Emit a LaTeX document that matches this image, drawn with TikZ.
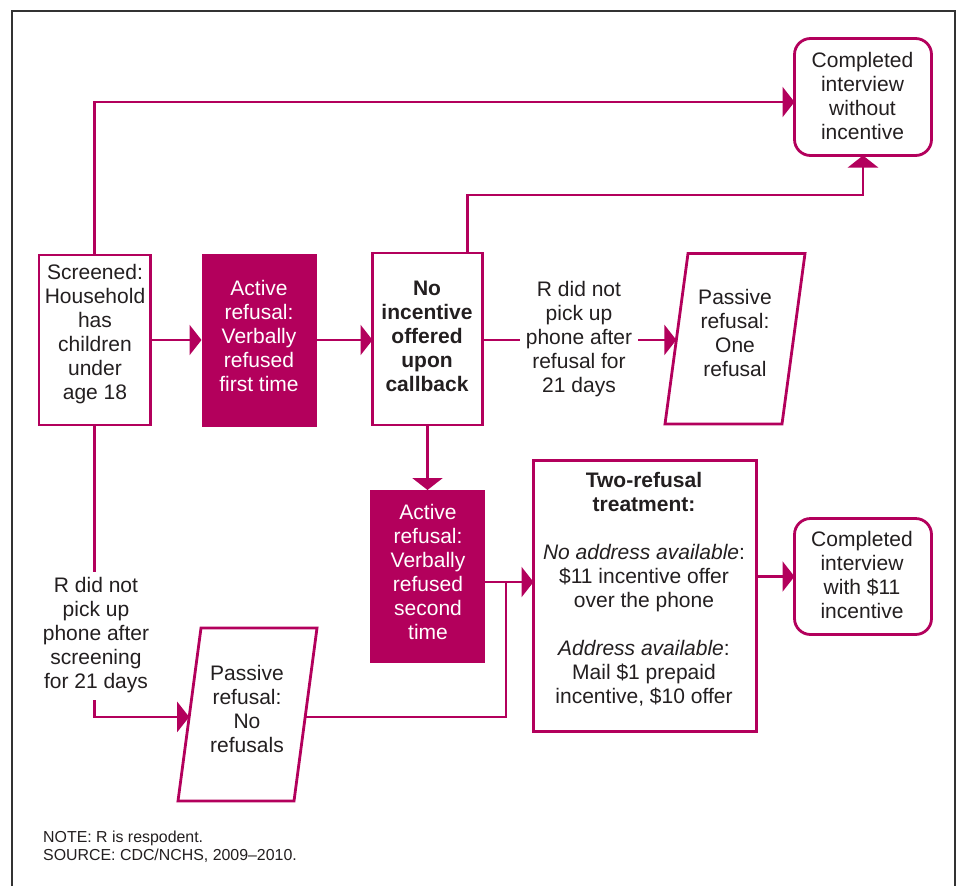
\documentclass[tikz,border=0pt]{standalone}
\usepackage{fontspec}
\setmainfont{Liberation Sans}
\usetikzlibrary{arrows.meta,calc}
\definecolor{mag}{RGB}{179,0,92}
\definecolor{ink}{RGB}{35,31,32}
\begin{document}
\begin{tikzpicture}[x=1pt,y=-1pt,
  box/.style={draw=mag, line width=2.8pt, fill=white, inner sep=0pt, outer sep=0pt},
  fbox/.style={fill=mag, inner sep=0pt, outer sep=0pt},
  rbox/.style={box, rounded corners=16pt},
  txt/.style={font=\fontsize{21}{24}\selectfont, text=ink, align=center, inner sep=0pt,
    execute at begin node=\strut, execute at end node=\strut},
  btxt/.style={txt, font=\fontsize{21}{24}\selectfont\bfseries},
  wtxt/.style={txt, text=white},
  ovl/.style={txt, fill=white, inner xsep=6pt, inner ysep=5pt},
  ln/.style={draw=mag, line width=2.8pt},
  arr/.style={ln, -{Triangle[length=12pt,width=30pt]}},
  frame/.style={draw=black!80, line width=1.6pt},
  note/.style={font=\fontsize{15.9}{18.7}\selectfont, text=ink, inner sep=0pt, anchor=base west}
]
\useasboundingbox (0,0) rectangle (957,886);
\fill[white] (0,0) rectangle (957,886);
\draw[frame] (12,886) -- (12,11) -- (955,11) -- (955,886);

% boxes
\node[box, minimum width=111.5, minimum height=170] (scr) at (94.75,340) {};
\node[fbox, minimum width=115, minimum height=173] (act1) at (259,340) {};
\node[box, minimum width=110, minimum height=172] (noinc) at (427.5,339) {};
\node[fbox, minimum width=115, minimum height=173] (act2) at (427.5,576.5) {};
\node[box, minimum width=223, minimum height=271] (two) at (645,596) {};
\node[rbox, minimum width=137, minimum height=117] (cw) at (863,97) {};
\node[rbox, minimum width=137, minimum height=116] (c11) at (863,576.5) {};

% parallelograms
\coordinate (p1tl) at (688,253.5);
\coordinate (p1tr) at (805,253.5);
\coordinate (p1br) at (782,424);
\coordinate (p1bl) at (665,424);
\draw[ln, fill=white] (p1tl) -- (p1tr) -- (p1br) -- (p1bl) -- cycle;
\coordinate (p1w) at ($(p1tl)!0.507!(p1bl)$);

\coordinate (p2tl) at (201,628);
\coordinate (p2tr) at (317,628);
\coordinate (p2br) at (294,801);
\coordinate (p2bl) at (178,801);
\draw[ln, fill=white] (p2tl) -- (p2tr) -- (p2br) -- (p2bl) -- cycle;
\coordinate (p2w) at ($(p2tl)!0.514!(p2bl)$);
\coordinate (p2e) at ($(p2tr)!0.514!(p2br)$);

\coordinate (j1) at (506,582);

% connectors
\draw[arr] (scr.north) |- ($(cw.west)+(0,5)$);
\draw[arr] ($(noinc.north)+(40,0)$) |- ($(cw.south)+(0,39.5)$) -- (cw.south);
\draw[arr] (scr.east |- act1.west) -- (act1.west);
\draw[arr] (act1.east) -- (act1.east -| noinc.west);
\draw[arr] (noinc.east |- p1w) -- (p1w);
\draw[arr] (noinc.south) -- (noinc.south |- act2.north);
\draw[arr] (scr.south) |- (p2w);
\draw[ln] (p2e) -| (j1);
\draw[arr] (act2.east |- j1) -- (two.west |- j1);
\draw[arr] (two.east |- c11.west) -- (c11.west);

% texts
\node[txt] (tscr) at (95,335.5) {Screened:\\Household\\has\\children\\under\\age 18};
\node[wtxt] (tact1) at (259,339.5) {Active\\refusal:\\Verbally\\refused\\first time};
\node[btxt] (tnoinc) at (427,339.5) {No\\incentive\\offered\\upon\\callback};
\node[ovl] (tr1) at (579,340.5) {R did not\\pick up\\phone after\\refusal for\\21 days};
\node[txt] (tp1) at (735,336) {Passive\\refusal:\\One\\refusal};
\node[txt] (tcw) at (862.5,99) {Completed\\interview\\without\\incentive};
\node[wtxt] (tact2) at (428,575.7) {Active\\refusal:\\Verbally\\refused\\second\\time};
\node[txt] (ttwo) at (644,591) {\textbf{Two-refusal}\\\textbf{treatment:}\\[24pt]\textit{No address available}:\\\$11 incentive offer\\over the phone\\[24pt]\textit{Address available}:\\Mail \$1 prepaid\\incentive, \$10 offer};
\node[txt] (tc11) at (862,578) {Completed\\interview\\with \$11\\incentive};
\node[ovl] (tr2) at (96,636) {R did not\\pick up\\phone after\\screening\\for 21 days};
\node[txt] (tp2) at (247,712) {Passive\\refusal:\\No\\refusals};

\node[note] (n1) at (43,842) {NOTE: R is respodent.};
\node[note] (n2) at (43,860.7) {SOURCE: CDC/NCHS, 2009--2010.};
\end{tikzpicture}
\end{document}
